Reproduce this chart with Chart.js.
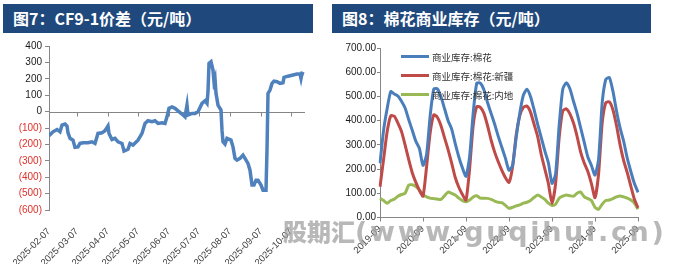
<!DOCTYPE html>
<html>
<head>
<meta charset="utf-8">
<script src="https://cdn.jsdelivr.net/npm/chart.js@4.4.1/dist/chart.umd.min.js"></script>
<style>
  body { margin: 0; width: 682px; height: 264px; background: #fff; position: relative; overflow: hidden; }
  .bar { position: absolute; top: 4px; height: 29px; background: #1f497d; color: #fff; font: bold 16px "Noto Sans CJK SC", sans-serif; line-height: 29px; padding-left: 10px; box-sizing: border-box; }
  #t1 { left: 3px; width: 310px; }
  #t2 { left: 332px; width: 319px; }
  canvas { position: absolute; top: 36px; }
  #c1 { left: 0; }
  #c2 { left: 341px; }
  #legend { position: absolute; left: 401px; top: 47px; font: 9.5px "Noto Sans CJK SC", sans-serif; color: #333; }
  #legend div { height: 19px; display: flex; align-items: center; }
  #legend span.ln { display: inline-block; width: 28px; height: 3px; margin-right: 3px; }
  .wm { position: absolute; left: 283px; top: 213px; color: rgba(160,160,160,0.75); white-space: nowrap; }
  .wm .cn { font: 900 24px "Noto Sans CJK SC", sans-serif; }
  .wm .en { font: bold 27px "DejaVu Sans", sans-serif; letter-spacing: 2.7px; }
</style>
</head>
<body>
<div class="bar" id="t1">图7：CF9-1价差（元/吨）</div>
<div class="bar" id="t2">图8：棉花商业库存（元/吨）</div>
<canvas id="c1" width="341" height="228"></canvas>
<canvas id="c2" width="341" height="228"></canvas>
<div id="legend"></div>
<div class="wm"><span class="cn">股期汇</span><span class="en">(www.guqihui.cn)</span></div>
<script>
// CF9-1 spread, day offset from 2025-02-07
const cfDay = [0, 4, 8, 11, 13, 16, 18, 19, 21, 24, 26, 29, 31, 34, 39, 43, 46, 49, 53, 56, 59, 60, 63, 66, 69, 73, 75, 79,
  81, 84, 89, 93, 96, 99, 103, 106, 109, 113, 116, 118, 120, 123, 126, 129, 133, 136, 138, 139, 143, 146, 149, 153, 156,
  158, 159, 160, 162, 164, 165, 166, 167, 169, 172, 173, 174, 176, 178, 182, 184, 186, 188, 191, 194, 196, 199, 201, 203,
  205, 207, 209, 212, 214, 217, 218, 219, 221, 223, 225, 228, 231, 234, 235, 239, 244, 248, 251, 252, 253, 255];
const cfSpread = [-148, -123, -109, -123, -82, -76, -88, -129, -163, -174, -218, -215, -194, -190, -190, -184, -194, -133,
  -129, -117, -88, -133, -170, -163, -184, -194, -241, -230, -194, -204, -174, -133, -72, -56, -62, -56, -72, -68, -72, -32,
  20, 29, 20, 5, -15, -32, 40, -21, -11, -11, -1, 50, 66, 50, 121, 294, 304, 253, 182, 202, 111, 40, 9, -113, -184, -198,
  -163, -174, -215, -285, -296, -285, -265, -285, -316, -357, -448, -448, -418, -418, -448, -479, -479, -235, 111, 131, 172,
  186, 182, 172, 176, 209, 216, 223, 229, 229, 202, 233, 229];
const cfTickDay = [0, 28, 59, 89, 120, 150, 181, 212, 242];
const cfTickLabels = ['2025-02-07', '2025-03-07', '2025-04-07', '2025-05-07', '2025-06-07', '2025-07-07', '2025-08-07', '2025-09-07', '2025-10-07'];

// commercial cotton stock, monthly
const stockMonths = [
  '2019-09', '2019-10', '2019-11', '2019-12',
  '2020-01', '2020-02', '2020-03', '2020-04', '2020-05', '2020-06', '2020-07', '2020-08', '2020-09', '2020-10', '2020-11', '2020-12',
  '2021-01', '2021-02', '2021-03', '2021-04', '2021-05', '2021-06', '2021-07', '2021-08', '2021-09', '2021-10', '2021-11', '2021-12',
  '2022-01', '2022-02', '2022-03', '2022-04', '2022-05', '2022-06', '2022-07', '2022-08', '2022-09', '2022-10', '2022-11', '2022-12',
  '2023-01', '2023-02', '2023-03', '2023-04', '2023-05', '2023-06', '2023-07', '2023-08', '2023-09', '2023-10', '2023-11', '2023-12',
  '2024-01', '2024-02', '2024-03', '2024-04', '2024-05', '2024-06', '2024-07', '2024-08', '2024-09', '2024-10', '2024-11', '2024-12',
  '2025-01', '2025-02', '2025-03', '2025-04', '2025-05', '2025-06', '2025-07', '2025-08', '2025-09'];
const stockTotal = [224, 360, 450, 520, 510, 502, 480, 452, 405, 360, 315, 285, 215, 260, 420, 530, 532, 500, 450, 400,
  365, 305, 250, 205, 170, 250, 430, 555, 555, 528, 475, 430, 385, 335, 290, 245, 195, 215, 330, 430,
  505, 530, 500, 445, 385, 330, 275, 225, 141, 180, 380, 530, 557, 532, 480, 430, 370, 310, 250, 215,
  175, 240, 472, 570, 578, 522, 440, 370, 315, 245, 190, 140, 104];
const stockXinjiang = [127, 240, 355, 420, 418, 390, 355, 300, 240, 185, 145, 112, 88, 210, 350, 424, 414, 380, 330, 280,
  225, 165, 125, 95, 72, 200, 380, 458, 455, 430, 380, 320, 270, 230, 195, 165, 145, 210, 340, 420,
  455, 460, 435, 385, 334, 260, 200, 140, 58, 140, 330, 440, 449, 428, 390, 335, 270, 225, 190, 140,
  82, 180, 390, 474, 478, 445, 380, 300, 235, 185, 130, 75, 40];
const stockInland = [80, 70, 59, 70, 76, 88, 95, 100, 133, 135, 128, 114, 95, 85, 80, 78, 76, 75, 90, 105,
  100, 93, 80, 70, 65, 72, 85, 90, 80, 80, 79, 75, 68, 63, 61, 50, 38, 42, 48, 52,
  59, 63, 70, 83, 93, 85, 75, 59, 50, 55, 80, 88, 93, 90, 88, 100, 105, 85, 78, 70,
  42, 34, 55, 70, 72, 78, 85, 89, 85, 80, 72, 60, 34];
const stockNames = ['商业库存:棉花', '商业库存:棉花:新疆', '商业库存:棉花:内地'];
const stockColors = ['#4a7ebb', '#be4b48', '#98b954'];

const tickFont = { family: '"Liberation Sans", sans-serif', size: 10 };
const dateFont = { family: '"Liberation Sans", sans-serif', size: 9.5 };
const axisGray = '#868686';

// zero line with month tick marks (Excel-style category axis crossing at 0)
const zeroAxis = {
  id: 'zeroAxis',
  beforeDatasetsDraw(chart) {
    const { ctx, chartArea, scales: { x, y } } = chart;
    const y0 = Math.round(y.getPixelForValue(0)) + 0.5;
    ctx.save();
    ctx.strokeStyle = axisGray;
    ctx.lineWidth = 1;
    ctx.beginPath();
    ctx.moveTo(chartArea.left, y0);
    ctx.lineTo(chartArea.right, y0);
    cfTickDay.forEach(d => {
      const px = Math.round(x.getPixelForValue(d)) + 0.5;
      ctx.moveTo(px, y0);
      ctx.lineTo(px, y0 + 4);
    });
    ctx.stroke();
    ctx.restore();
  }
};

new Chart(document.getElementById('c1'), {
  type: 'line',
  data: {
    datasets: [{
      data: cfDay.map((d, i) => ({ x: d, y: cfSpread[i] })),
      borderColor: '#4f81bd',
      borderWidth: 3.5,
      pointRadius: 0,
      tension: 0
    }]
  },
  options: {
    responsive: false,
    animation: false,
    layout: { padding: { top: 10, right: 36, left: 0, bottom: 0 } },
    plugins: { legend: { display: false }, tooltip: { enabled: false } },
    scales: {
      x: {
        type: 'linear',
        min: 0,
        max: 256,
        grid: { display: false },
        border: { display: false },
        afterBuildTicks: s => { s.ticks = cfTickDay.map(v => ({ value: v })); },
        afterFit: s => { s.height = 54; },
        ticks: {
          autoSkip: false,
          minRotation: 45,
          maxRotation: 45,
          padding: 8,
          font: dateFont,
          color: '#404040',
          callback: v => cfTickLabels[cfTickDay.indexOf(v)]
        }
      },
      y: {
        min: -600,
        max: 400,
        afterFit: s => { s.width = 49; },
        grid: { drawOnChartArea: false, tickLength: 4, color: axisGray },
        border: { color: axisGray },
        ticks: {
          stepSize: 100,
          padding: 3,
          font: tickFont,
          color: ctx => ctx.tick.value < 0 ? '#e0302a' : '#1a1a1a',
          callback: v => v < 0 ? '(' + (-v) + ')' : String(v)
        }
      }
    }
  },
  plugins: [zeroAxis]
});

new Chart(document.getElementById('c2'), {
  type: 'line',
  data: {
    labels: stockMonths,
    datasets: [stockTotal, stockXinjiang, stockInland].map((arr, i) => ({
      label: stockNames[i],
      data: arr,
      borderColor: stockColors[i],
      borderWidth: 3,
      pointRadius: 0,
      tension: 0.2
    }))
  },
  options: {
    responsive: false,
    animation: false,
    layout: { padding: { top: 12, right: 44, left: 0, bottom: 0 } },
    plugins: { legend: { display: false }, tooltip: { enabled: false } },
    scales: {
      x: {
        type: 'category',
        offset: false,
        grid: { drawOnChartArea: false, tickLength: 4, color: axisGray },
        border: { color: axisGray },
        afterBuildTicks: s => { s.ticks = s.ticks.filter(t => stockMonths[t.value].endsWith('-09')); },
        afterFit: s => { s.height = 46.5; },
        ticks: {
          autoSkip: false,
          minRotation: 45,
          maxRotation: 45,
          padding: 2,
          font: dateFont,
          color: '#404040'
        }
      },
      y: {
        min: 0,
        max: 700,
        afterFit: s => { s.width = 39; },
        grid: { drawOnChartArea: false, tickLength: 3, color: axisGray },
        border: { color: axisGray },
        ticks: {
          stepSize: 100,
          padding: 1,
          font: tickFont,
          color: '#1a1a1a',
          callback: v => v.toFixed(2)
        }
      }
    }
  }
});

const legend = document.getElementById('legend');
stockNames.forEach((name, i) => {
  const row = document.createElement('div');
  row.innerHTML = '<span class="ln" style="background:' + stockColors[i] + '"></span>' + name;
  legend.appendChild(row);
});
</script>
</body>
</html>
